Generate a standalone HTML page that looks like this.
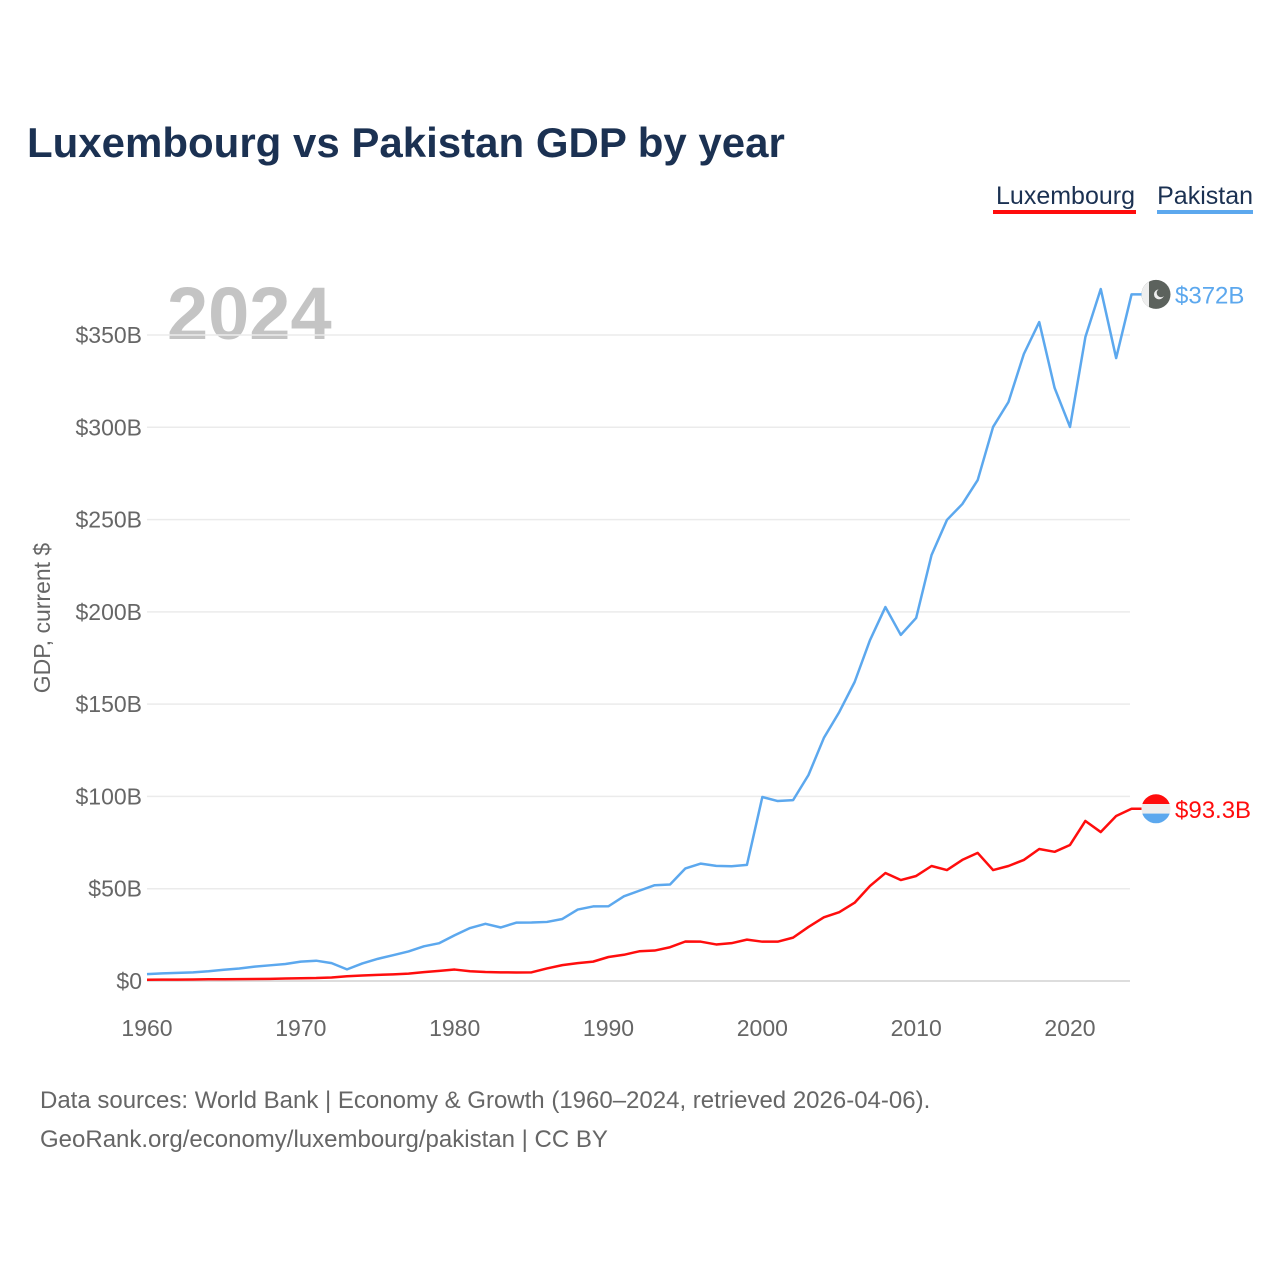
<!DOCTYPE html>
<html><head><meta charset="utf-8"><style>
body{margin:0;background:#fff;width:1280px;height:1280px;overflow:hidden;font-family:"Liberation Sans",sans-serif}
svg text{font-family:"Liberation Sans",sans-serif}
</style></head><body>
<svg id="c" width="1280" height="1280">
<text x="27" y="157" font-size="42" font-weight="bold" fill="#1b3152">Luxembourg vs Pakistan GDP by year</text>
<g><text x="1135" y="204" font-size="25" fill="#1b3152" text-anchor="end">Luxembourg</text><rect x="993" y="210" width="143" height="4" fill="#ff0d0d"/></g>
<g><text x="1253" y="204" font-size="25" fill="#1b3152" text-anchor="end">Pakistan</text><rect x="1157" y="210" width="96" height="4" fill="#5ca8ee"/></g>
<text x="167" y="339" font-size="74" font-weight="bold" fill="#c4c4c4">2024</text>
<text transform="translate(50,618) rotate(-90)" font-size="23" fill="#666" text-anchor="middle">GDP, current $</text>
<defs><clipPath id="cp"><circle id="cpc" cx="1156" cy="0" r="14.5"/></clipPath><clipPath id="cl"><circle id="clc" cx="1156" cy="0" r="14.5"/></clipPath></defs>
<g id="grid"></g><g id="marks"></g>
<text x="40" y="1108" font-size="24" fill="#666">Data sources: World Bank | Economy &amp; Growth (1960–2024, retrieved 2026-04-06).</text>
<text x="40" y="1147" font-size="24" fill="#666">GeoRank.org/economy/luxembourg/pakistan | CC BY</text>
</svg>
<script>
const years=[];for(let y=1960;y<=2024;y++)years.push(y);
const pakistan=[3.7,4.1,4.4,4.7,5.3,6.1,6.8,7.8,8.5,9.2,10.5,11,9.7,6.3,9.5,12,14,16,18.8,20.5,24.8,28.7,31,29,31.6,31.7,32,33.6,38.7,40.4,40.5,45.9,48.9,51.9,52.3,61,63.6,62.4,62.2,62.9,99.7,97.5,98,111.6,131.7,145.7,162,184.7,202.6,187.5,196.7,230.8,249.8,258.4,271.4,300.2,313.7,339.7,357,321.3,300.2,348.9,374.9,337.5,372];
const luxembourg=[0.7,0.72,0.76,0.83,0.92,0.97,1.0,1.06,1.17,1.37,1.5,1.6,1.9,2.6,3.0,3.3,3.6,4.0,4.8,5.5,6.2,5.3,4.9,4.7,4.6,4.7,6.8,8.6,9.7,10.5,13,14.2,16.1,16.5,18.3,21.4,21.3,19.8,20.5,22.4,21.3,21.3,23.5,29.3,34.5,37.3,42.4,51.5,58.5,54.7,56.9,62.3,60.1,65.6,69.4,60.1,62.3,65.6,71.5,70,73.7,86.7,80.7,89.4,93.3];
const yTicks=[0,50,100,150,200,250,300,350];
const yTickLabels=["$0","$50B","$100B","$150B","$200B","$250B","$300B","$350B"];
const xTicks=[1960,1970,1980,1990,2000,2010,2020];
const X=y=>147+(y-1960)*(1070-147)/60;
const Y=v=>981-v*(981-335)/350;
const NS="http://www.w3.org/2000/svg";
function mk(t,a,p){const e=document.createElementNS(NS,t);for(const k in a)e.setAttribute(k,a[k]);p.appendChild(e);return e;}
const g=document.getElementById('grid'),m=document.getElementById('marks');
yTicks.forEach((v,i)=>{
 const l=mk('line',{x1:147,x2:1130,y1:Y(v),y2:Y(v),stroke:i==0?'#ddd':'#ebebeb','stroke-width':i==0?2:1.5},g);
 
 
 const t=mk('text',{x:142,y:Y(v)+8,'font-size':23,fill:'#666','text-anchor':'end'},g);t.textContent=yTickLabels[i];
 
 
});
xTicks.forEach(y=>{const t=mk('text',{x:X(y),y:1036,'font-size':23,fill:'#666','text-anchor':'middle'},g);t.textContent=y;
 
 });
function series(d,col,name){
 const last=d[d.length-1];
 const pts=d.map((v,i)=>X(years[i])+','+Y(v)).join(' ')+' '+(X(2024)+10)+','+Y(last);
 const p=mk('polyline',{points:pts,fill:'none',stroke:col,'stroke-width':2.5,'stroke-linejoin':'round'},m);
 
 
 return Y(last);
}
const yp=series(pakistan,'#5ca8ee','pakistan'),yl=series(luxembourg,'#ff0d0d','luxembourg');
document.getElementById('cpc').setAttribute('cy',yp);
document.getElementById('clc').setAttribute('cy',yl);
const fp=mk('g',{'clip-path':'url(#cp)'},m);


mk('rect',{x:1141,y:yp-15,width:30,height:30,fill:'#5c625d'},fp);
mk('rect',{x:1141,y:yp-15,width:8,height:30,fill:'#eee'},fp);
mk('circle',{cx:1159,cy:yp,r:5,fill:'#eee'},fp);mk('circle',{cx:1161,cy:yp-1.5,r:4.3,fill:'#5c625d'},fp);
const fl=mk('g',{'clip-path':'url(#cl)'},m);


[['#ff0d0d',-15],['#eee',-4.8],['#5ca8ee',4.8]].forEach(([c,o])=>mk('rect',{x:1141,y:yl+o,width:30,height:10.2,fill:c},fl));
const tp=mk('text',{x:1175,y:yp+9,'font-size':24,fill:'#5ca8ee'},m);tp.textContent='$372B';


const tl=mk('text',{x:1175,y:yl+9,'font-size':24,fill:'#ff0d0d'},m);tl.textContent='$93.3B';


</script>
</body></html>
